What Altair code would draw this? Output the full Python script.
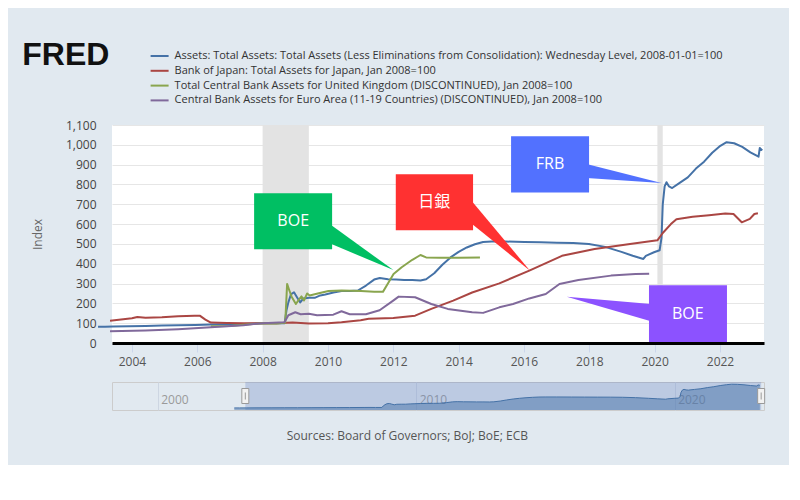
import altair as alt
import pandas as pd

# ---------------- data ----------------
series_names = [
    "Assets: Total Assets: Total Assets (Less Eliminations from Consolidation): Wednesday Level, 2008-01-01=100",
    "Bank of Japan: Total Assets for Japan, Jan 2008=100",
    "Total Central Bank Assets for United Kingdom (DISCONTINUED), Jan 2008=100",
    "Central Bank Assets for Euro Area (11-19 Countries) (DISCONTINUED), Jan 2008=100",
]
series_colors = ["#4572a7", "#aa4643", "#89a54e", "#80699b"]

frb_dates = ["2002-12-18", "2003-03-05", "2003-06-04", "2003-12-03", "2004-06-02", "2004-12-01",
             "2005-06-01", "2005-12-07", "2006-06-07", "2006-12-06", "2007-06-06", "2007-12-26",
             "2008-03-05", "2008-06-04", "2008-09-03", "2008-09-24", "2008-10-15", "2008-11-12",
             "2008-12-17", "2009-01-21", "2009-02-25", "2009-04-01", "2009-06-03", "2009-08-05",
             "2009-10-07", "2009-12-02", "2010-03-03", "2010-06-02", "2010-09-01", "2010-12-01",
             "2011-03-02", "2011-06-01", "2011-08-03", "2011-11-02", "2012-02-01", "2012-05-02",
             "2012-08-01", "2012-10-31", "2013-01-02", "2013-04-03", "2013-07-03", "2013-10-02",
             "2014-01-01", "2014-04-02", "2014-07-02", "2014-10-01", "2015-01-07", "2015-06-03",
             "2016-01-06", "2016-07-06", "2017-01-04", "2017-07-05", "2017-12-27", "2018-06-27",
             "2018-12-26", "2019-05-01", "2019-08-28", "2019-09-25", "2019-12-25", "2020-02-26",
             "2020-03-18", "2020-04-01", "2020-04-22", "2020-05-13", "2020-06-10", "2020-07-15",
             "2020-10-07", "2021-01-06", "2021-04-07", "2021-07-07", "2021-10-06", "2022-01-05",
             "2022-03-16", "2022-06-08", "2022-09-07", "2022-12-07", "2023-03-08", "2023-03-22",
             "2023-04-19"]
frb_values = [82, 82, 83, 85, 86, 88,
              89, 91, 93, 94, 96, 100,
              101, 100, 100, 165, 205, 245,
              256, 230, 205, 225, 228, 228,
              240, 245, 255, 262, 262, 265,
              290, 320, 328, 322, 320, 318,
              318, 315, 322, 352, 395, 432,
              460, 482, 498, 510, 512, 512,
              510, 508, 506, 505, 500, 485,
              460, 440, 424, 440, 458, 468,
              530, 700, 790, 811, 790, 782,
              808, 836, 880, 915, 960, 995,
              1013, 1008, 990, 962, 940, 984,
              972]

boj_dates = ["2003-05-01", "2003-09-01", "2004-01-01", "2004-03-01", "2004-06-01", "2004-12-01",
             "2005-06-01", "2005-12-01", "2006-02-01", "2006-04-01", "2006-06-01", "2006-12-01",
             "2007-06-01", "2008-01-01", "2008-06-01", "2008-12-01", "2009-06-01", "2010-01-01",
             "2010-06-01", "2011-01-01", "2011-04-01", "2012-01-01", "2012-09-01", "2013-03-01",
             "2013-11-01", "2014-06-01", "2015-04-01", "2016-03-01", "2017-03-01", "2018-03-01",
             "2019-04-01", "2020-02-01", "2020-04-01", "2020-07-01", "2020-09-01", "2021-03-01",
             "2021-09-01", "2022-03-01", "2022-06-01", "2022-09-01", "2022-12-01", "2023-01-20",
             "2023-03-01"]
boj_values = [112, 118, 125, 131, 127, 130,
              135, 138, 137, 118, 103, 101,
              100, 100, 100, 104, 99, 100,
              105, 115, 122, 126, 138, 172,
              214, 255, 301, 365, 440, 474,
              500, 518, 555, 600, 625, 637,
              645, 654, 651, 609, 626, 651,
              655]

boe_dates = ["2006-06-01", "2007-01-01", "2007-06-01", "2008-01-01", "2008-06-01", "2008-09-10",
             "2008-10-01", "2008-10-22", "2008-11-19", "2009-01-07", "2009-02-04", "2009-03-11",
             "2009-04-08", "2009-05-13", "2009-06-10", "2009-09-09", "2010-01-06", "2010-06-02",
             "2011-01-05", "2011-06-01", "2011-09-07", "2011-11-02", "2012-01-04", "2012-04-04",
             "2012-08-01", "2012-10-31", "2013-01-02", "2013-06-05", "2014-01-01", "2014-08-27"]
boe_values = [85, 86, 92, 100, 98, 102,
              298, 270, 235, 197, 215, 235,
              215, 250, 240, 250, 262, 265,
              262, 258, 258, 300, 348, 382,
              420, 444, 432, 430, 430, 432]

ecb_dates = ["2003-05-01", "2004-06-01", "2005-06-01", "2006-06-01", "2007-06-01", "2008-01-01",
             "2008-09-01", "2008-10-15", "2008-12-31", "2009-03-01", "2009-06-01", "2009-09-01",
             "2010-03-01", "2010-06-01", "2010-09-01", "2011-03-01", "2011-08-01", "2011-12-31",
             "2012-03-01", "2012-09-01", "2013-03-01", "2013-09-01", "2014-06-01", "2014-10-01",
             "2015-04-01", "2015-09-01", "2016-03-01", "2016-09-01", "2017-02-01", "2017-09-01",
             "2018-09-01", "2019-06-01", "2019-11-01"]
ecb_values = [59, 63, 70, 80, 90, 100,
              105, 140, 155, 145, 148, 140,
              143, 160, 145, 145, 165, 214,
              234, 231, 197, 172, 155, 152,
              180, 197, 225, 247, 298, 318,
              340, 348, 350]

recession_starts = ["2008-01-01", "2020-02-01"]
recession_ends = ["2009-06-01", "2020-04-01"]

tick_years = [2004, 2006, 2008, 2010, 2012, 2014, 2016, 2018, 2020, 2022]
nav_tick_years = [2000, 2010, 2020]
y_ticks = [0, 100, 200, 300, 400, 500, 600, 700, 800, 900, 1000, 1100]

# call-out balloons (positions in data units)
callout_labels = ["BOE", "日銀", "FRB", "BOE"]
callout_colors = ["#00bf63", "#ff3131", "#5271ff", "#8c52ff"]
box_start = ["2007-09-28", "2012-01-29", "2015-08-10", "2019-10-30"]
box_end = ["2010-02-16", "2014-06-11", "2017-12-29", "2022-03-20"]
box_top = [755, 851, 1043, 291]
box_bottom = [473, 569, 760, 0]
label_date = ["2008-12-08", "2013-04-02", "2016-10-19", "2021-01-05"]
label_value = [614, 710, 902, 146]
pointer_base_date = ["2010-01-20", "2014-05-20", "2017-12-01", "2019-11-20"]
pointer_base_top = [600, 720, 903, 197]
pointer_base_bottom = [503, 604, 832, 110]
pointer_tip_date = ["2012-01-02", "2016-03-09", "2020-03-18", "2017-04-24"]
pointer_tip_value = [368, 365, 807, 234]

sources_text = "Sources: Board of Governors; BoJ; BoE; ECB"

# ---------------- layout constants ----------------
W, H = 652, 218
NH = 28
FONT = "Open Sans"
CALLOUT_FONT = "Open Sans, Noto Sans CJK JP"


def dt(s):
    y, m, d = (int(p) for p in s.split("-"))
    return alt.DateTime(year=y, month=m, date=d, utc=True)


x_scale = alt.Scale(type="utc", domain=[dt("2003-05-23"), dt("2023-05-08")])
y_scale = alt.Scale(domain=[0, 1100], nice=False)

x_axis = alt.Axis(
    values=[alt.DateTime(year=y, month=1, date=1, utc=True) for y in tick_years],
    format="%Y", labelFont=FONT, labelFontSize=12, labelColor="#555555",
    tickColor="#ccd6eb", tickSize=9, tickWidth=1,
    domainColor="#000000", domainWidth=3, grid=False, labelPadding=4,
    labelFlush=False, labelOverlap=False, zindex=1,
)
y_axis = alt.Axis(
    values=y_ticks, format=",d", labelFont=FONT, labelFontSize=12, labelColor="#444444",
    ticks=False, tickSize=0, domain=False, labelPadding=16,
    gridColor="#e6e6e6", gridWidth=1,
    title="Index", titleFont=FONT, titleFontSize=12, titleFontWeight="normal",
    titleColor="#666666", titleX=-68, titleY=H / 2, titleAlign="center", zindex=0,
)


def X(field):
    return alt.X(field, type="temporal", scale=x_scale, axis=x_axis, title=None)


def Y(field):
    return alt.Y(field, type="quantitative", scale=y_scale, axis=y_axis, title="Index")


# ---------------- tables ----------------
series_dates = [frb_dates, boj_dates, boe_dates, ecb_dates]
series_values = [frb_values, boj_values, boe_values, ecb_values]
lines_df = pd.concat(
    [pd.DataFrame({"series": n, "date": d, "value": v})
     for n, d, v in zip(series_names, series_dates, series_values)],
    ignore_index=True,
)
rec_df = pd.DataFrame({"date": recession_starts, "date2": recession_ends})

# ---------------- main chart ----------------
recession = alt.Chart(rec_df).mark_rect(color="#e3e3e3").encode(
    x=X("date"), x2="date2:T", y=alt.value(0), y2=alt.value(H)
)

lines = alt.Chart(lines_df).mark_line(strokeWidth=2, strokeJoin="round").encode(
    x=X("date"),
    y=Y("value"),
    color=alt.Color(
        "series:N",
        scale=alt.Scale(domain=series_names, range=series_colors),
        legend=alt.Legend(
            orient="none", legendX=40.6, legendY=-76, title=None,
            symbolType="M-1.5,0L1.5,0", symbolSize=144, symbolStrokeWidth=2,
            labelFont=FONT, labelFontSize=11, labelColor="#333333",
            labelLimit=800, labelOffset=8, rowPadding=2.8, padding=0,
            direction="vertical",
        ),
    ),
)

layers = [recession, lines]
for i in range(len(callout_labels)):
    box_df = pd.DataFrame({"date": [box_start[i]], "date2": [box_end[i]],
                           "value": [box_top[i]], "value2": [box_bottom[i]]})
    ptr_df = pd.DataFrame({
        "date": [pointer_base_date[i], pointer_tip_date[i]],
        "value": [pointer_base_top[i], pointer_tip_value[i]],
        "value2": [pointer_base_bottom[i], pointer_tip_value[i]],
    })
    txt_df = pd.DataFrame({"date": [label_date[i]], "value": [label_value[i]],
                           "label": [callout_labels[i]]})
    layers.append(alt.Chart(box_df).mark_rect(color=callout_colors[i]).encode(
        x=X("date"), x2="date2:T", y=Y("value"), y2="value2:Q"))
    layers.append(alt.Chart(ptr_df).mark_area(color=callout_colors[i], interpolate="linear").encode(
        x=X("date"), y=Y("value"), y2="value2:Q"))
    layers.append(alt.Chart(txt_df).mark_text(
        color="white", fontSize=16, font=CALLOUT_FONT, align="center", baseline="middle"
    ).encode(x=X("date"), y=Y("value"), text="label:N"))

logo = alt.Chart(pd.DataFrame({"t": ["FRED"]})).mark_text(
    font="Liberation Sans", fontWeight="bold", fontSize=32, color="#111111",
    align="left", baseline="alphabetic",
).encode(text="t:N", x=alt.value(-89.7), y=alt.value(-60.5))
layers.append(logo)

main = alt.layer(*layers).properties(
    width=W, height=H,
    view=alt.ViewBackground(fill="white", strokeWidth=0),
)

# ---------------- navigator ----------------
nav_x_scale = alt.Scale(type="utc", domain=[dt("1998-03-26"), dt("2023-06-17")])
nav_y_scale = alt.Scale(domain=[0, 1100], nice=False)
nav_axis = alt.Axis(
    values=[alt.DateTime(year=y, month=1, date=1, utc=True) for y in nav_tick_years],
    format="%Y", labelAlign="left", labelOffset=3, labelPadding=-16,
    labelColor="#9a9a9a", labelFont=FONT, labelFontSize=12,
    grid=True, gridColor="#cdd6e2", ticks=False, domain=False,
    labelFlush=False, title=None,
)


def NX(field):
    return alt.X(field, type="temporal", scale=nav_x_scale, axis=nav_axis, title=None)


frb_df = pd.DataFrame({"date": frb_dates, "value": frb_values})
mask_df = pd.DataFrame({"date": ["2003-05-23"], "date2": ["2023-05-08"]})
handle_df = pd.DataFrame({"date": ["2003-05-23", "2023-05-08"]})

mask = alt.Chart(mask_df).mark_rect(color="#6685c2", opacity=0.3).encode(
    x=NX("date"), x2="date2:T", y=alt.value(0), y2=alt.value(NH))
nav_area = alt.Chart(frb_df).mark_area(color="#4572a7", opacity=0.5).encode(
    x=NX("date"), y=alt.Y("value:Q", scale=nav_y_scale, axis=None))
nav_line = alt.Chart(frb_df).mark_line(color="#4572a7", strokeWidth=1).encode(
    x=NX("date"), y=alt.Y("value:Q", scale=nav_y_scale, axis=None))
handles = alt.Chart(handle_df).mark_tick(
    orient="vertical", thickness=7, size=15, fill="#f2f2f2", stroke="#999999",
    strokeWidth=1, opacity=1, filled=True,
).encode(x=NX("date"))
grips = alt.Chart(handle_df).mark_tick(
    orient="vertical", thickness=1, size=7, color="#999999", opacity=1
).encode(x=NX("date"))
sources = alt.Chart(pd.DataFrame({"t": [sources_text]})).mark_text(
    font=FONT, fontSize=12, color="#555555", align="center", baseline="middle"
).encode(text="t:N", x=alt.value(295.3), y=alt.value(NH + 26.3))

nav = alt.layer(mask, nav_area, nav_line, handles, grips, sources).properties(
    width=W, height=NH,
    view=alt.ViewBackground(fill="transparent", stroke="#cccccc", strokeWidth=1),
)

chart = alt.vconcat(main, nav, spacing=14).properties(
    padding={"left": 14, "top": 30, "right": 23, "bottom": 22},
    background="#e1e9f0",
).configure(font=FONT)

chart.save("out.html", embed_options={"renderer": "svg", "actions": False})
